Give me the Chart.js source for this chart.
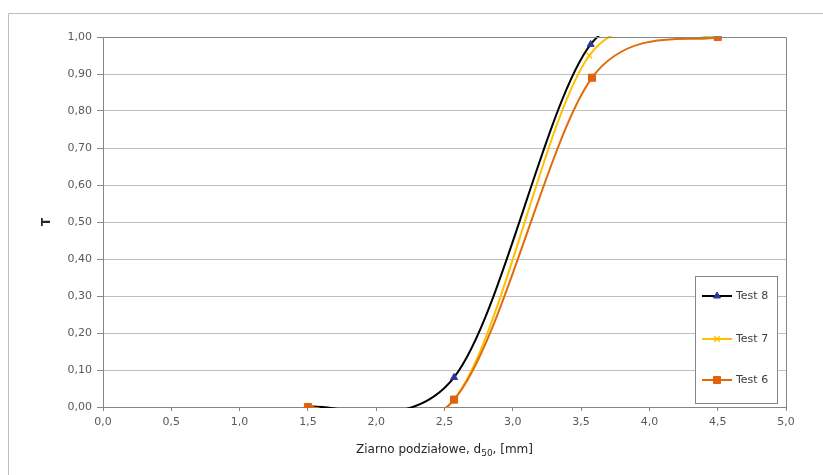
<!DOCTYPE html>
<html>
<head>
<meta charset="utf-8">
<script src="https://cdn.jsdelivr.net/npm/chart.js@4.4.1/dist/chart.umd.min.js"></script>
<style>
  html, body { margin: 0; padding: 0; background: #fff; }
  #wrap { position: relative; width: 823px; height: 475px; }
</style>
</head>
<body>
<div id="wrap"><canvas id="chartCanvas" width="823" height="475"></canvas></div>
<script>
// data
const seriesNames = ['Test 8', 'Test 7', 'Test 6'];
const test8X = [1.5, 2.57, 3.57, 4.5];
const test8Y = [0.00, 0.08, 0.98, 1.00];
const test7X = [1.5, 2.57, 3.56, 4.5];
const test7Y = [0.00, 0.02, 0.95, 1.00];
const test6X = [1.5, 2.57, 3.58, 4.5];
const test6Y = [0.00, 0.02, 0.89, 1.00];
const xTicks = [0, 0.5, 1, 1.5, 2, 2.5, 3, 3.5, 4, 4.5, 5];
const yTicks = [0, 0.1, 0.2, 0.3, 0.4, 0.5, 0.6, 0.7, 0.8, 0.9, 1.0];

function pts(xs, ys) {
    return xs.map((x, i) => ({ x: x, y: ys[i] }));
}

const FONT = '"DejaVu Sans", sans-serif';

const datasets = [
    {
        label: seriesNames[0],
        data: pts(test8X, test8Y),
        borderColor: '#000000',
        pointStyle: 'triangle',
        pointRadius: 4,
        pointBackgroundColor: '#2f3699',
        pointBorderColor: '#2f3699',
        pointBorderWidth: 1,
        order: 2
    },
    {
        label: seriesNames[1],
        data: pts(test7X, test7Y),
        borderColor: '#ffc000',
        pointStyle: 'crossRot',
        pointRadius: 4,
        pointBackgroundColor: '#ffc000',
        pointBorderColor: '#ffc000',
        pointBorderWidth: 1.5,
        order: 1
    },
    {
        label: seriesNames[2],
        data: pts(test6X, test6Y),
        borderColor: '#e36c0a',
        pointStyle: 'rect',
        pointRadius: 5,
        pointBackgroundColor: '#e0620c',
        pointBorderColor: '#e0620c',
        pointBorderWidth: 1,
        order: 0
    }
];
datasets.forEach(d => {
    d.borderWidth = 2;
    d.tension = 0.4;
    d.clip = { left: 0, right: 0, top: 1, bottom: 1 };
    d.fill = false;
});

function dist(a, b) {
    return Math.hypot(b.x - a.x, b.y - a.y);
}

// excel style smoothing: control arms 1/6 of the neighbour chord, capped
const excelSmooth = {
    id: 'excelSmooth',
    beforeDatasetsDraw(chart) {
        chart.data.datasets.forEach((d, i) => {
            const meta = chart.getDatasetMeta(i);
            meta.dataset.updateControlPoints(chart.chartArea, 'x');
            const p = meta.data;
            for (let k = 0; k < p.length - 1; k++) {
                const p0 = p[k > 0 ? k - 1 : k], p1 = p[k], p2 = p[k + 1];
                const p3 = p[k + 2 < p.length ? k + 2 : k + 1];
                const d12 = dist(p1, p2), d02 = dist(p0, p2), d13 = dist(p1, p3);
                let f1 = 1 / 6, f2 = 1 / 6;
                if (d02 / 6 > d12 / 2 && d02 > 0) f1 = d12 / (2 * d02);
                if (d13 / 6 > d12 / 2 && d13 > 0) f2 = d12 / (2 * d13);
                p1.cp2x = p1.x + f1 * (p2.x - p0.x);
                p1.cp2y = p1.y + f1 * (p2.y - p0.y);
                p2.cp1x = p2.x - f2 * (p3.x - p1.x);
                p2.cp1y = p2.y - f2 * (p3.y - p1.y);
            }
        });
    }
};

// frame, titles and legend drawn on the canvas
const extras = {
    id: 'extras',
    beforeDraw(chart) {
        const ctx = chart.ctx;
        ctx.save();
        ctx.fillStyle = '#fff';
        ctx.fillRect(0, 0, chart.width, chart.height);
        ctx.strokeStyle = '#bdbdbd';
        ctx.lineWidth = 1;
        ctx.beginPath();
        ctx.moveTo(8.5, 475);
        ctx.lineTo(8.5, 13.5);
        ctx.lineTo(823, 13.5);
        ctx.stroke();
        ctx.restore();
    },
    afterDraw(chart) {
        const ctx = chart.ctx;
        const a = chart.chartArea;
        ctx.save();
        // plot border top and right
        ctx.strokeStyle = '#868686';
        ctx.lineWidth = 1;
        ctx.beginPath();
        ctx.moveTo(a.left, a.top + 0.5);
        ctx.lineTo(a.right + 0.5, a.top + 0.5);
        ctx.lineTo(a.right + 0.5, a.bottom);
        ctx.stroke();

        // y title
        ctx.fillStyle = '#262626';
        ctx.font = 'bold 12px ' + FONT;
        ctx.textAlign = 'center';
        ctx.textBaseline = 'middle';
        ctx.save();
        ctx.translate(47, (a.top + a.bottom) / 2);
        ctx.rotate(-Math.PI / 2);
        ctx.fillText('T', 0, 0);
        ctx.restore();

        // x title with subscript
        const p1 = 'Ziarno podziałowe, d', sub = '50', p2 = ', [mm]';
        ctx.font = '12px ' + FONT;
        const w1 = ctx.measureText(p1).width, w3 = ctx.measureText(p2).width;
        ctx.font = '9px ' + FONT;
        const w2 = ctx.measureText(sub).width;
        let x = (a.left + a.right) / 2 - (w1 + w2 + w3) / 2;
        const y = 453;
        ctx.textAlign = 'left';
        ctx.textBaseline = 'alphabetic';
        ctx.font = '12px ' + FONT;
        ctx.fillText(p1, x, y);
        x += w1;
        ctx.font = '9px ' + FONT;
        ctx.fillText(sub, x, y + 3);
        x += w2;
        ctx.font = '12px ' + FONT;
        ctx.fillText(p2, x, y);

        // legend box
        ctx.fillStyle = '#fff';
        ctx.fillRect(695, 276, 82, 127);
        ctx.strokeStyle = '#868686';
        ctx.strokeRect(695.5, 276.5, 82, 127);
        const rows = [296, 339, 380];
        chart.data.datasets.forEach((d, i) => {
            const ly = rows[i];
            ctx.strokeStyle = d.borderColor;
            ctx.lineWidth = 2;
            ctx.beginPath();
            ctx.moveTo(702, ly);
            ctx.lineTo(732, ly);
            ctx.stroke();
            ctx.fillStyle = d.pointBackgroundColor;
            ctx.strokeStyle = d.pointBorderColor;
            ctx.lineWidth = d.pointBorderWidth;
            Chart.helpers.drawPoint(ctx, {
                pointStyle: d.pointStyle,
                radius: d.pointRadius,
                borderWidth: d.pointBorderWidth,
                rotation: 0
            }, 717, ly);
            ctx.fillStyle = '#404040';
            ctx.font = '11px ' + FONT;
            ctx.textAlign = 'left';
            ctx.textBaseline = 'middle';
            ctx.fillText(d.label, 736, ly);
        });
        ctx.restore();
    }
};

const config = {
    type: 'line',
    data: { datasets: datasets },
    options: {
        responsive: false,
        animation: false,
        layout: { padding: { top: 37, right: 37, left: 0, bottom: 0 } },
        elements: { line: { capBezierPoints: false } },
        plugins: {
            legend: { display: false },
            tooltip: { enabled: false }
        },
        scales: {
            x: {
                type: 'linear',
                min: 0,
                max: 5,
                afterFit(s) { s.height = 68; },
                afterBuildTicks(s) { s.ticks = xTicks.map(v => ({ value: v })); },
                grid: { drawOnChartArea: false, color: '#868686', tickLength: 4, tickColor: '#868686' },
                border: { color: '#868686' },
                ticks: {
                    color: '#595959',
                    font: { family: FONT, size: 11 },
                    padding: 5,
                    maxRotation: 0,
                    callback: v => v.toFixed(1).replace('.', ',')
                }
            },
            y: {
                min: 0,
                max: 1,
                afterFit(s) { s.width = 103; },
                afterBuildTicks(s) { s.ticks = yTicks.map(v => ({ value: v })); },
                grid: { color: '#c0c0c0', tickLength: 6, tickColor: '#868686' },
                border: { color: '#868686' },
                ticks: {
                    color: '#595959',
                    font: { family: FONT, size: 11 },
                    padding: 5,
                    callback: v => v.toFixed(2).replace('.', ',')
                }
            }
        }
    },
    plugins: [excelSmooth, extras]
};

var myChart = new Chart(document.getElementById('chartCanvas'), config);
</script>
</body>
</html>
